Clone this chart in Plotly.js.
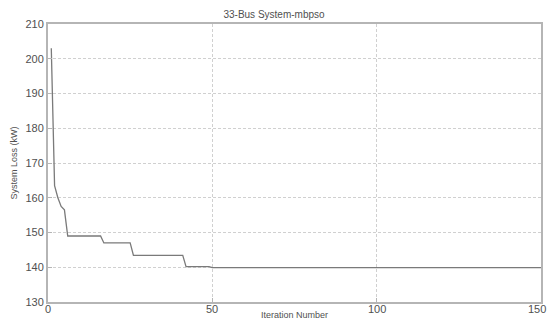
<!DOCTYPE html>
<html>
<head>
<meta charset="utf-8">
<script src="https://cdn.plot.ly/plotly-3.0.1.min.js"></script>
<style>html,body{margin:0;padding:0;background:#fff;}#chart{width:548px;height:322px;}</style>
</head>
<body>
<div id="chart"></div>
<script>
// Iterations at which the best loss was read (ends of each flat run)
const iterations = [1, 2, 3, 4, 5, 6, 16, 17, 25, 26, 41, 42, 49, 50, 150];
// System loss (kW) at those iterations
const systemLoss = [203, 163.5, 160, 157.5, 156.5, 149, 149, 147, 147, 143.4, 143.4, 140.2, 140.2, 139.9, 139.9];
const xTicks = [0, 50, 100, 150];
const yTicks = [130, 140, 150, 160, 170, 180, 190, 200, 210];

const FONT = 'Liberation Sans, Arial, sans-serif';

const trace = {
  x: iterations,
  y: systemLoss,
  type: 'scatter',
  mode: 'lines',
  line: {color: '#7a7a7a', width: 1.3},
  hoverinfo: 'skip'
};

const axisCommon = {
  showline: true,
  linecolor: '#b5b5b5',
  linewidth: 2,
  mirror: true,
  ticks: 'inside',
  ticklen: 4,
  tickcolor: '#b5b5b5',
  showgrid: true,
  gridcolor: '#d0d0d0',
  griddash: '3px,2px',
  gridwidth: 1,
  zeroline: false,
  tickfont: {family: FONT, size: 11, color: '#505050'}
};

// x tick labels placed as annotations so they sit close to the axis like the original
const xLabelAnns = xTicks.map((v, i) => {
  const last = i === xTicks.length - 1;
  return {
    x: v, xref: 'x', y: 0, yref: 'paper',
    yanchor: 'middle', xanchor: last ? 'right' : 'center',
    xshift: last ? 7 : 0, yshift: -7,
    text: String(v), showarrow: false,
    font: {family: FONT, size: 11, color: '#505050'}
  };
});

const layout = {
  width: 548,
  height: 322,
  margin: {l: 48, r: 7, t: 24, b: 20},
  paper_bgcolor: '#fff',
  plot_bgcolor: '#fff',
  showlegend: false,
  title: {
    text: '33-Bus System-mbpso',
    font: {family: FONT, size: 10, color: '#505050'},
    x: 0.5, xanchor: 'center', y: 0.955, yanchor: 'middle'
  },
  xaxis: Object.assign({}, axisCommon, {
    range: [0, 150],
    tickvals: xTicks,
    showticklabels: false,
    title: {text: 'Iteration Number', standoff: 9,
      font: {family: FONT, size: 9, color: '#505050'}}
  }),
  yaxis: Object.assign({}, axisCommon, {
    range: [130, 210],
    tickvals: yTicks,
    ticktext: yTicks.map(String),
    title: {text: 'System Loss (kW)', standoff: 6,
      font: {family: FONT, size: 9, color: '#505050'}}
  }),
  annotations: xLabelAnns
};

Plotly.newPlot('chart', [trace], layout, {displayModeBar: false, staticPlot: true});
</script>
</body>
</html>
